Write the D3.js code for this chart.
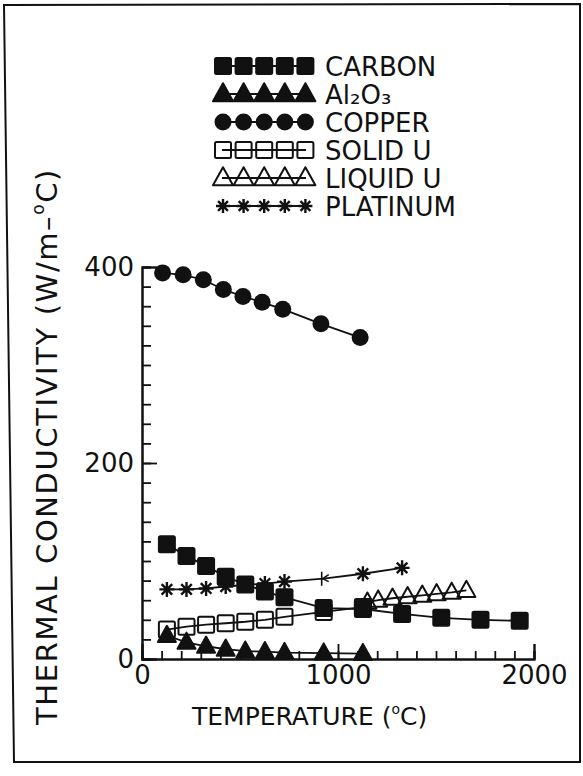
<!DOCTYPE html>
<html>
<head>
<meta charset="utf-8">
<script src="https://cdn.jsdelivr.net/npm/d3@7"></script>
<style>
  html, body { margin: 0; padding: 0; background: #fff; }
  svg { display: block; }
  text { font-family: "DejaVu Sans", "Liberation Sans", sans-serif; fill: #111; }
</style>
</head>
<body>
<svg id="chart" width="583" height="776"></svg>
<script>
// Thermal conductivity (W/m-°C) against temperature (°C)

// Temperatures of the carbon, Al2O3, solid U and platinum measurements
const tempK = [127, 227, 327, 427, 527, 627, 727, 927, 1127, 1327, 1527, 1727, 1927];

const carbonTemp = tempK;
const carbonK = [117, 105, 95, 84, 76, 69, 63, 52, 51, 46, 42, 40, 39];

const aluminaTemp = tempK.slice(0, 9);
const aluminaK = [24, 17, 13, 10, 8, 7.5, 6.5, 6, 5.5];

const copperTemp = [105, 210, 313, 415, 515, 613, 718, 913, 1113];
const copperK = [394, 392, 387, 377, 370, 364, 357, 342, 328];

const solidUTemp = tempK.slice(0, 9);
const solidUK = [30, 33, 35, 36.5, 38, 40, 43, 48, 53];

const liquidUTemp = [1150, 1205, 1278, 1355, 1430, 1503, 1580, 1655];
const liquidUK = [58, 60, 62, 63.5, 65, 66.5, 68, 70];

const platinumTemp = tempK.slice(0, 10);
const platinumK = [71, 71, 72, 74, 75.5, 77, 79, 82, 87, 93];

const seriesNames = ["CARBON", "Al\u2082O\u2083", "COPPER", "SOLID U", "LIQUID U", "PLATINUM"];
const xTickValues = [0, 1000, 2000];
const yTickValues = [0, 200, 400];

const series = [
  { name: seriesNames[0], temp: carbonTemp, k: carbonK, symbol: "square", filled: true },
  { name: seriesNames[1], temp: aluminaTemp, k: aluminaK, symbol: "triangle", filled: true },
  { name: seriesNames[2], temp: copperTemp, k: copperK, symbol: "circle", filled: true },
  { name: seriesNames[3], temp: solidUTemp, k: solidUK, symbol: "square", filled: false },
  { name: seriesNames[4], temp: liquidUTemp, k: liquidUK, symbol: "triangle", filled: false },
  { name: seriesNames[5], temp: platinumTemp, k: platinumK, symbol: "star", filled: true }
];

const svg = d3.select("#chart");

// page frame
svg.append("path")
  .attr("d", "M4,5 L580,4 L580,762 L14,762 Z")
  .attr("fill", "none")
  .attr("stroke", "#111")
  .attr("stroke-width", 2);

const x = d3.scaleLinear().domain([0, 2000]).range([142, 534]);
const y = d3.scaleLinear().domain([0, 400]).range([659, 267]);

const g = svg.append("g");

// axes: ticks point into the plot
const xMinor = g.append("g").attr("transform", `translate(0,${y(0)})`)
  .call(d3.axisBottom(x).tickValues(d3.range(0, 2001, 100)).tickSize(-8).tickFormat(""));
const xMajor = g.append("g").attr("transform", `translate(0,${y(0)})`)
  .call(d3.axisBottom(x).tickValues(xTickValues).tickSize(-15).tickPadding(7).tickFormat(d3.format("d")));
const yMinor = g.append("g").attr("transform", `translate(${x(0)},0)`)
  .call(d3.axisLeft(y).tickValues(d3.range(0, 401, 20)).tickSize(-9).tickFormat(""));
const yMajor = g.append("g").attr("transform", `translate(${x(0)},0)`)
  .call(d3.axisLeft(y).tickValues(yTickValues).tickSize(-15).tickPadding(8).tickFormat(d3.format("d")));

[xMinor, xMajor, yMinor, yMajor].forEach(a => {
  a.selectAll(".domain").attr("stroke", "#111").attr("stroke-width", 2);
  a.selectAll(".tick line").attr("stroke", "#111").attr("stroke-width", 1.8);
  a.selectAll(".tick text").attr("font-size", 26).attr("fill", "#111")
    .style("font-family", '"DejaVu Sans", sans-serif');
});
xMajor.selectAll(".tick text").attr("dy", "0.71em");

// marker drawing
function marker(sel, s, size) {
  const sz = size;
  if (s.symbol === "square") {
    sel.append("rect")
      .attr("x", -sz / 2).attr("y", -sz / 2).attr("width", sz).attr("height", sz)
      .attr("rx", 1.5)
      .attr("fill", s.filled ? "#111" : "none")
      .attr("stroke", "#111").attr("stroke-width", 2);
  } else if (s.symbol === "triangle") {
    const h = sz * 0.9;
    sel.append("path")
      .attr("d", `M0,${-h * 0.6} L${sz / 2},${h * 0.4} L${-sz / 2},${h * 0.4} Z`)
      .attr("fill", s.filled ? "#111" : "none")
      .attr("stroke", "#111").attr("stroke-width", 2).attr("stroke-linejoin", "round");
  } else if (s.symbol === "circle") {
    sel.append("circle").attr("r", sz / 2 + 0.5).attr("fill", "#111");
  } else if (s.symbol === "star") {
    const r = sz / 2;
    let d = "";
    for (let i = 0; i < 4; i++) {
      const a = i * Math.PI / 4;
      d += `M${(-r * Math.sin(a)).toFixed(2)},${(-r * Math.cos(a)).toFixed(2)}L${(r * Math.sin(a)).toFixed(2)},${(r * Math.cos(a)).toFixed(2)}`;
    }
    sel.append("path").attr("d", d).attr("stroke", "#111").attr("stroke-width", 2.4).attr("fill", "none");
  }
}

const line = d3.line().x(d => x(d[0])).y(d => y(d[1]));

const plot = svg.append("g");
series.forEach(s => {
  const pts = s.temp.map((t, i) => [t, s.k[i]]);
  plot.append("path").datum(pts)
    .attr("d", line)
    .attr("fill", "none").attr("stroke", "#111").attr("stroke-width", 1.8);
});
series.forEach(s => {
  const pts = s.temp.map((t, i) => [t, s.k[i]]);
  plot.append("g").selectAll("g").data(pts).join("g")
    .attr("transform", d => `translate(${x(d[0])},${y(d[1])})`)
    .each(function (d) {
      const sel = d3.select(this);
      // the platinum point at 927 °C is only partly printed
      if (s.symbol === "star" && d[0] === 927) {
        sel.append("path").attr("d", "M-2,-7L-2,7M-1,0L5,-4M-1,0L5,3")
          .attr("stroke", "#111").attr("stroke-width", 1.6).attr("fill", "none");
      } else {
        const size = s.symbol === "star" ? 15 : (s.symbol === "triangle" ? 18 : 16);
        marker(sel, s, size);
      }
    });
});

// legend
const legend = svg.append("g");
const legendRowY = d3.range(series.length).map(i => 66 + i * 28);
series.forEach((s, i) => {
  const row = legend.append("g").attr("transform", `translate(0,${legendRowY[i]})`);
  row.append("line").attr("x1", 222).attr("x2", 306).attr("y1", 0).attr("y2", 0)
    .attr("stroke", "#111").attr("stroke-width", 1.8);
  for (let j = 0; j < 5; j++) {
    const m = row.append("g").attr("transform", `translate(${223 + j * 20.6},0)`);
    const size = s.symbol === "star" ? 14 : (s.symbol === "triangle" ? 20 : 16);
    marker(m, s, size);
  }
  row.append("text").attr("x", 325).attr("y", 9.5).attr("font-size", 26).text(s.name);
});

// axis titles
const xt = svg.append("text").attr("x", 192).attr("y", 725).attr("font-size", 25);
xt.append("tspan").text("TEMPERATURE (");
xt.append("tspan").attr("font-size", 14).attr("dy", -11).text("o");
xt.append("tspan").attr("dy", 11).text("C)");

const yt = svg.append("text").attr("transform", "translate(57,725) rotate(-90)")
  .attr("font-size", 29).style("letter-spacing", "1.6px");
yt.append("tspan").text("THERMAL CONDUCTIVITY (W/m\u2013");
yt.append("tspan").attr("font-size", 17).attr("dy", -13).text("o");
yt.append("tspan").attr("dy", 13).text("C)");
</script>
</body>
</html>
